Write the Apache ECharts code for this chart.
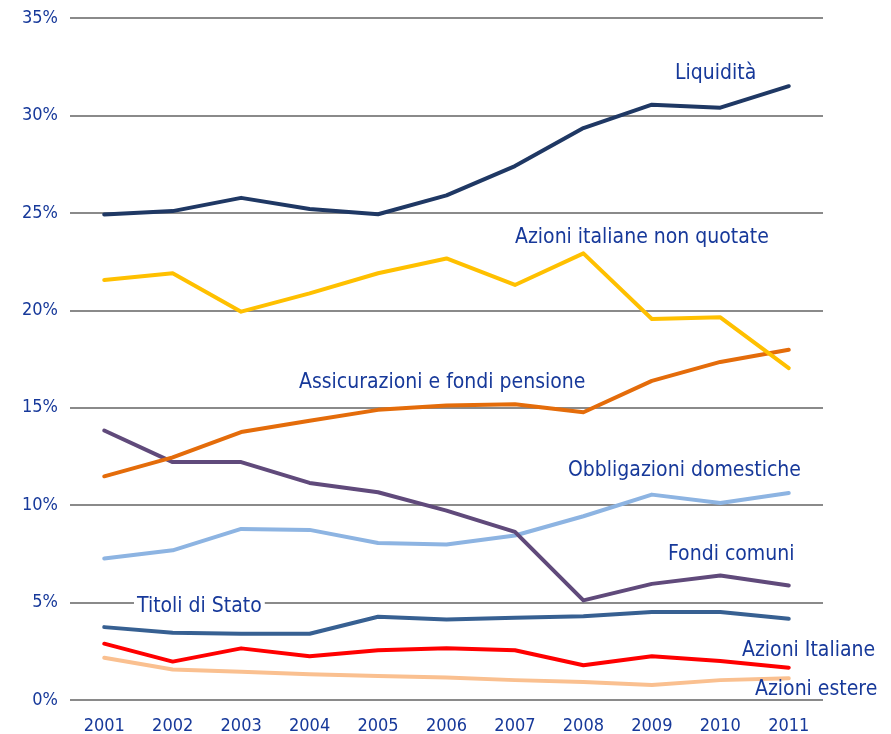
<!DOCTYPE html>
<html><head><meta charset="utf-8">
<script src="https://cdn.jsdelivr.net/npm/echarts@6/dist/echarts.min.js"></script>
<style>html,body{margin:0;padding:0;background:#fff}#c{width:891px;height:734px}</style>
</head><body><div id="c"></div>
<script>
const years = ['2001','2002','2003','2004','2005','2006','2007','2008','2009','2010','2011'];
const liquidita = [24.92,25.09,25.77,25.2,24.93,25.9,27.4,29.35,30.55,30.4,31.5];
const azioniNonQuotate = [21.55,21.9,19.93,20.87,21.9,22.66,21.3,22.92,19.55,19.64,17.03];
const assicurazioni = [11.48,12.45,13.75,14.33,14.89,15.11,15.18,14.77,16.38,17.35,17.97];
const fondiComuni = [13.83,12.21,12.21,11.14,10.66,9.72,8.63,5.11,5.96,6.39,5.88];
const obbligazioni = [7.26,7.68,8.78,8.73,8.06,7.98,8.44,9.43,10.54,10.11,10.62];
const titoliStato = [3.74,3.45,3.40,3.40,4.27,4.13,4.22,4.30,4.51,4.52,4.17];
const azioniItaliane = [2.89,1.97,2.65,2.25,2.55,2.65,2.55,1.78,2.25,2.0,1.66];
const azioniEstere = [2.17,1.57,1.45,1.32,1.23,1.15,1.02,0.92,0.77,1.02,1.11];
const yTicks = [0,5,10,15,20,25,30,35];

const font = 'DejaVu Sans Condensed';
const txtColor = '#17399a';
const seriesDefs = [
  ['Azioni estere', azioniEstere, '#fac090'],
  ['Azioni Italiane', azioniItaliane, '#ff0000'],
  ['Titoli di Stato', titoliStato, '#376092'],
  ['Obbligazioni domestiche', obbligazioni, '#8db4e2'],
  ['Fondi comuni', fondiComuni, '#604a7b'],
  ['Assicurazioni e fondi pensione', assicurazioni, '#e46c0a'],
  ['Azioni italiane non quotate', azioniNonQuotate, '#ffc000'],
  ['Liquidità', liquidita, '#1f3864']
];
// annotation text placements (left x, vertical centre y in pixels)
const labels = [
  ['Liquidità', 675, 74],
  ['Azioni italiane non quotate', 515, 238],
  ['Assicurazioni e fondi pensione', 299, 383],
  ['Obbligazioni domestiche', 568, 471],
  ['Fondi comuni', 668, 555],
  ['Titoli di Stato', 134, 607, true],
  ['Azioni Italiane', 742, 651],
  ['Azioni estere', 755, 690]
];
const chart = echarts.init(document.getElementById('c'));
chart.setOption({
  animation: false,
  grid: {left: 70, right: 68, top: 18, bottom: 34, containLabel: false, outerBoundsMode: 'none'},
  xAxis: {
    type: 'category', data: years, boundaryGap: true,
    axisLine: {show: false}, axisTick: {show: false},
    axisLabel: {color: txtColor, fontFamily: font, fontSize: 18, margin: 17}
  },
  yAxis: {
    type: 'value', min: 0, max: 35, interval: 5,
    axisLine: {show: false}, axisTick: {show: false},
    axisLabel: {color: txtColor, fontFamily: font, fontSize: 18, margin: 12,
      formatter: v => yTicks.includes(v) ? v + '%' : ''},
    splitLine: {lineStyle: {color: '#8a8a8a', width: 2}}
  },
  series: seriesDefs.map(([n, d, c]) => ({
    name: n, type: 'line', data: d, symbol: 'none',
    lineStyle: {color: c, width: 4, cap: 'round', join: 'round'}, z: 3
  })),
  graphic: labels.map(([t, x, y, bg]) => ({
    type: 'text', x: x, y: y, z: 10,
    style: {text: t, fill: txtColor, font: '21px "' + font + '"',
      verticalAlign: 'middle', align: 'left',
      backgroundColor: bg ? '#fff' : null, padding: bg ? [0, 3] : 0}
  }))
});
</script></body></html>
